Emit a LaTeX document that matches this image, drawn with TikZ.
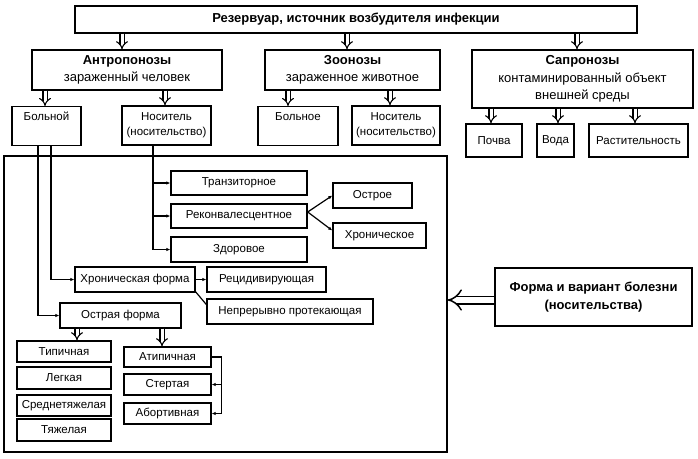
\documentclass[tikz,border=0pt]{standalone}
\usepackage{fontspec}
\setmainfont{Liberation Sans}
\usetikzlibrary{arrows.meta,calc}
\begin{document}
\begin{tikzpicture}[x=1pt,y=-1pt,
  bx/.style={draw, line width=1.4pt, inner sep=0pt, align=center, font=\fontsize{11.5}{15}\selectfont},
  hb/.style={bx, font=\fontsize{13}{17.5}\selectfont},
  dbl/.style={double, line width=1.1pt, double distance=3pt, -{Implies[length=4pt]}},
  dblbig/.style={double, line width=1.5pt, double distance=6pt, -{Implies[length=6pt]}},
  ln/.style={line width=1.2pt},
  ar/.style={ln, -{Latex[length=4pt,width=3.5pt]}}]
\useasboundingbox (0,0) rectangle (698,458);
% top level
\node[hb, minimum width=562, minimum height=27] (top) at (356,19.5) {\textbf{Резервуар, источник возбудителя инфекции}};
\node[hb, minimum width=190, minimum height=40] (anthro) at (127,70) {\textbf{Антропонозы}\\зараженный человек};
\node[hb, minimum width=175, minimum height=40] (zoo) at (352.5,70) {\textbf{Зоонозы}\\зараженное животное};
\node[hb, minimum width=221, minimum height=58] (sapro) at (582.5,79) {\textbf{Сапронозы}\\контаминированный объект\\внешней среды};
% second level
\node[bx, minimum width=69, minimum height=39, anchor=north] (bolnoy) at (46.5,106) {Больной\\\strut};
\node[bx, minimum width=89, minimum height=39] (nos1) at (166.5,125.5) {Носитель\\(носительство)};
\node[bx, minimum width=80, minimum height=39, anchor=north] (bolnoe) at (298,106) {Больное\\\strut};
\node[bx, minimum width=88, minimum height=39] (nos2) at (396,125.5) {Носитель\\(носительство)};
\node[bx, minimum width=56, minimum height=33] (pochva) at (494,140.5) {Почва};
\node[bx, minimum width=37, minimum height=33] (voda) at (555.5,140.5) {Вода};
\node[bx, minimum width=99, minimum height=33] (rast) at (638.5,140.5) {Растительность};
% big frame
\node[draw, line width=1.4pt, minimum width=443, minimum height=296, inner sep=0pt] (big) at (225.5,304) {};
% carriers
\node[bx, minimum width=136, minimum height=24] (tranz) at (239,183) {Транзиторное};
\node[bx, minimum width=136, minimum height=24] (rekon) at (239,216) {Реконвалесцентное};
\node[bx, minimum width=136, minimum height=25] (zdor) at (239,249.5) {Здоровое};
\node[bx, minimum width=79, minimum height=25] (ostroe) at (372.5,195.5) {Острое};
\node[bx, minimum width=93, minimum height=25] (hron) at (379.5,235.5) {Хроническое};
% forms
\node[bx, minimum width=120, minimum height=25] (hronf) at (135,279.5) {Хроническая форма};
\node[bx, minimum width=119, minimum height=25] (recid) at (266.5,279.5) {Рецидивирующая};
\node[bx, minimum width=166, minimum height=25] (nepr) at (290,311.5) {Непрерывно протекающая};
\node[bx, minimum width=121, minimum height=25] (ostraf) at (120.5,315.5) {Острая форма};
\node[bx, minimum width=94, minimum height=21] (tip) at (64,351.5) {Типичная};
\node[bx, minimum width=94, minimum height=22] (leg) at (64,378) {Легкая};
\node[bx, minimum width=94, minimum height=21] (sred) at (64,405.5) {Среднетяжелая};
\node[bx, minimum width=94, minimum height=22] (tyazh) at (64,430) {Тяжелая};
\node[bx, minimum width=87, minimum height=20] (atip) at (167.5,357) {Атипичная};
\node[bx, minimum width=87, minimum height=21] (stert) at (167.5,384.5) {Стертая};
\node[bx, minimum width=87, minimum height=21] (abort) at (167.5,413.5) {Абортивная};
\node[hb, minimum width=197, minimum height=58] (forma) at (593.5,297) {\textbf{Форма и вариант болезни}\\\textbf{(носительства)}};
% double arrows
\draw[dbl] (top.south -| 122,0) -- (anthro.north -| 122,0);
\draw[dbl] (top.south -| 347,0) -- (zoo.north -| 347,0);
\draw[dbl] (top.south -| 577,0) -- (sapro.north -| 577,0);
\draw[dbl] (anthro.south -| 45,0) -- (bolnoy.north -| 45,0);
\draw[dbl] (anthro.south -| 165,0) -- (nos1.north -| 165,0);
\draw[dbl] (zoo.south -| 288,0) -- (bolnoe.north -| 288,0);
\draw[dbl] (zoo.south -| 390,0) -- (nos2.north -| 390,0);
\draw[dbl] (sapro.south -| 491,0) -- (pochva.north -| 491,0);
\draw[dbl] (sapro.south -| 558,0) -- (voda.north -| 558,0);
\draw[dbl] (sapro.south -| 635,0) -- (rast.north -| 635,0);
\draw[dbl] (ostraf.south -| 77,0) -- (tip.north -| 77,0);
\draw[dbl] (ostraf.south -| 162,0) -- (atip.north -| 162,0);
\draw[dblbig] ([yshift=-3pt]forma.west) -- (big.east |- 0,300);
% thin connectors
\coordinate (nb) at (nos1.south -| 153,0);
\draw[ar] (nb) |- (tranz.west);
\draw[ar] (nb) |- (rekon.west);
\draw[ar] (nb) |- (zdor.west);
\draw[ar] ([yshift=4pt]rekon.east) -- (ostroe.west);
\draw[ar] ([yshift=4pt]rekon.east) -- ([yshift=5pt]hron.west);
\draw[ar] (bolnoy.south -| 51,0) |- (hronf.west);
\draw[ar] (bolnoy.south -| 38,0) |- (ostraf.west);
\draw[ar] (hronf.east) -- (recid.west);
\draw[ln] ([xshift=-1pt,yshift=2pt]hronf.south east) -- ([yshift=7pt]nepr.west);
\draw[ar] (atip.east) -- ++(10,0) |- (stert.east);
\draw[ar] (atip.east) -- ++(10,0) |- (abort.east);
\end{tikzpicture}
\end{document}
